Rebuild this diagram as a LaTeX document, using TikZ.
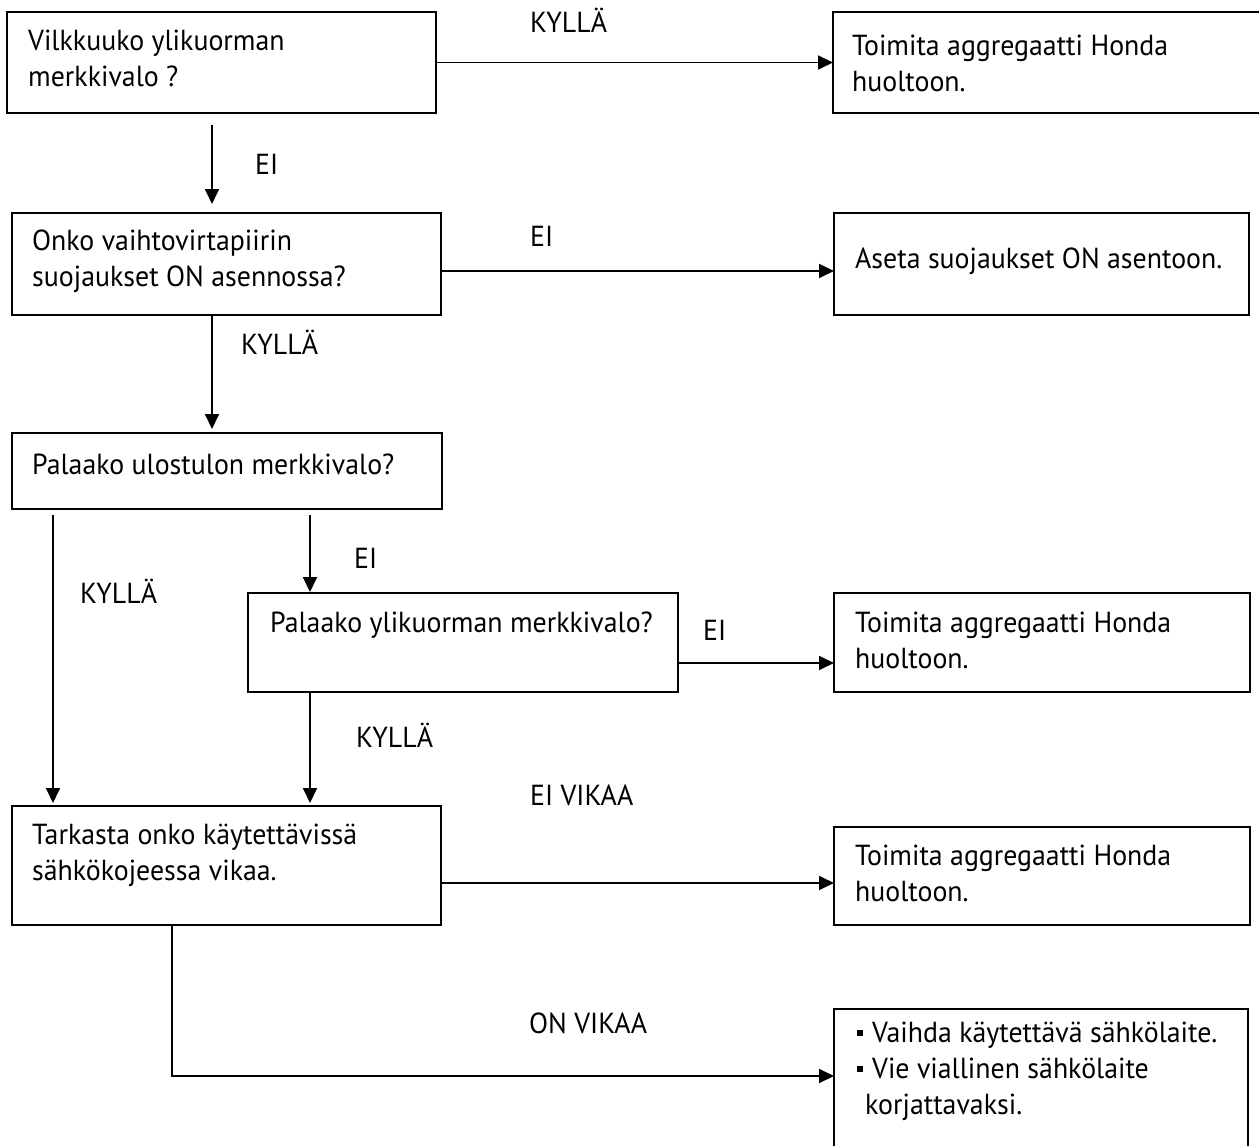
\documentclass[tikz,border=0pt]{standalone}
\usepackage{fontspec}
\setmainfont{PT Sans}[FakeStretch=0.96]
\usetikzlibrary{arrows.meta,calc}
\begin{document}
\begin{tikzpicture}[x=1pt,y=-1pt,
  box/.style={draw, line width=2pt, rectangle, inner sep=0pt, outer sep=0pt, anchor=north west},
  txt/.style={anchor=base west, inner sep=0pt, align=left, font=\fontsize{29}{36}\selectfont},
  arr/.style={line width=1.8pt, -{Triangle[length=15pt,width=14pt]}}]
\useasboundingbox (0,0) rectangle (1259,1146);

% boxes
\node[box, minimum width=429pt, minimum height=101pt] (b1) at (7,12) {};
\node[box, minimum width=440pt, minimum height=101pt] (r1) at (833,12) {};
\node[box, minimum width=429pt, minimum height=102pt] (b2) at (12,213) {};
\node[box, minimum width=415pt, minimum height=102pt] (r2) at (834,213) {};
\node[box, minimum width=430pt, minimum height=76pt] (b3) at (12,433) {};
\node[box, minimum width=430pt, minimum height=99pt] (b4) at (248,593) {};
\node[box, minimum width=416pt, minimum height=99pt] (r4) at (834,593) {};
\node[box, minimum width=429pt, minimum height=119pt] (b5) at (12,806) {};
\node[box, minimum width=416pt, minimum height=98pt] (r5) at (834,827) {};
\node[box, minimum width=414pt, minimum height=160pt] (r6) at (834,1009) {};

% box texts (multi-line texts sit on the baseline of their last line)
\node[txt] (b1t) at (28,86) {Vilkkuuko ylikuorman\\merkkivalo ?};
\node[txt] (r1t) at (852,91) {Toimita aggregaatti Honda\\huoltoon.};
\node[txt] (b2t) at (32,286) {Onko vaihtovirtapiirin\\suojaukset ON asennossa?};
\node[txt] (r2t) at (855,268) {Aseta suojaukset ON asentoon.};
\node[txt] (b3t) at (32,474) {Palaako ulostulon merkkivalo?};
\node[txt] (b4t) at (270,632) {Palaako ylikuorman merkkivalo?};
\node[txt] (r4t) at (855,668) {Toimita aggregaatti Honda\\huoltoon.};
\node[txt] (b5t) at (32,880) {Tarkasta onko käytettävissä\\sähkökojeessa vikaa.};
\node[txt] (r5t) at (855,901) {Toimita aggregaatti Honda\\huoltoon.};
\node[txt] (r6t) at (857,1114) {\rule[6pt]{6pt}{6pt}\hspace{9pt}Vaihda käytettävä sähkölaite.\\
  \rule[6pt]{6pt}{6pt}\hspace{9pt}Vie viallinen sähkölaite\\
  \hspace*{8pt}korjattavaksi.};

% connector labels
\node[txt] (l1) at (530,32) {KYLLÄ};
\node[txt] (l2) at (255,174) {EI};
\node[txt] (l3) at (530,246) {EI};
\node[txt] (l4) at (241,354) {KYLLÄ};
\node[txt] (l5) at (354,568) {EI};
\node[txt] (l6) at (80,603) {KYLLÄ};
\node[txt] (l7) at (703,640) {EI};
\node[txt] (l8) at (356,747) {KYLLÄ};
\node[txt] (l9) at (530,805) {EI VIKAA};
\node[txt] (l10) at (529,1033) {ON VIKAA};

% guide coordinates for connector columns and rows
\coordinate (xa) at (212,0);
\coordinate (xb) at (53,0);
\coordinate (xc) at (310,0);
\coordinate (xd) at (172,0);
\coordinate (ya) at (0,271);
\coordinate (yb) at (0,663);
\coordinate (yc) at (0,883);
\coordinate (yd) at (0,1076);

% connectors
\draw[arr] (b1.east) -- (r1.west);
\draw[arr, shorten >=9pt] ($(b1.south -| xa)+(0,12)$) -- (b2.north -| xa);
\draw[arr] (b2.east |- ya) -- (r2.west |- ya);
\draw[arr, shorten >=4pt] (b2.south -| xa) -- (b3.north -| xa);
\draw[arr, shorten >=3pt] ($(b3.south -| xb)+(0,6)$) -- (b5.north -| xb);
\draw[arr, shorten >=1pt] ($(b3.south -| xc)+(0,6)$) -- (b4.north -| xc);
\draw[arr] (b4.east |- yb) -- (r4.west |- yb);
\draw[arr, shorten >=3pt] (b4.south -| xc) -- (b5.north -| xc);
\draw[arr] (b5.east |- yc) -- (r5.west |- yc);
\draw[arr] (b5.south -| xd) |- (r6.west |- yd);
\end{tikzpicture}
\end{document}
